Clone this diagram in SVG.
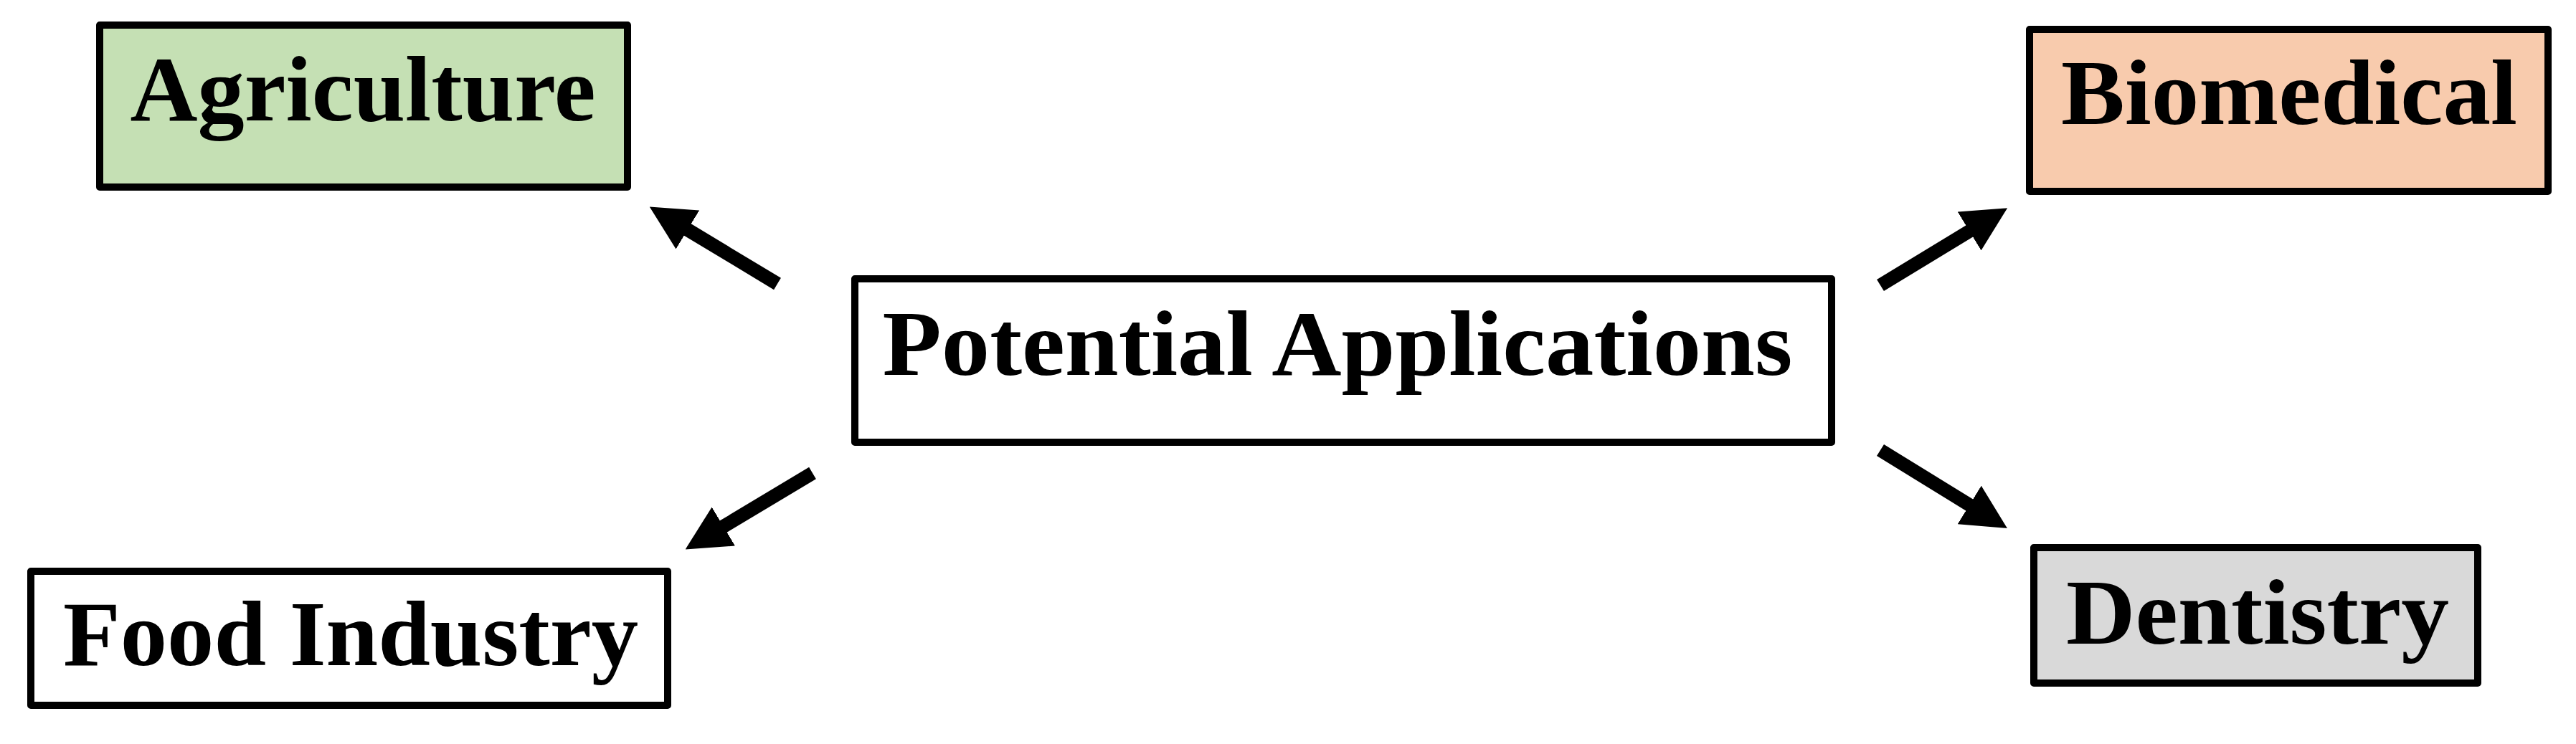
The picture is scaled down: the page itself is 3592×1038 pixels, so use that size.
<svg xmlns="http://www.w3.org/2000/svg" width="3592" height="1038" viewBox="0 0 3592 1038">
<style>
.box{stroke:#000;stroke-width:10;stroke-linejoin:round}
.lbl{font-family:"Liberation Serif","DejaVu Serif",serif;font-weight:bold;font-size:130px;fill:#000;text-anchor:middle}
.conn{stroke:#000;stroke-width:19;fill:none}
</style>
<defs>
<marker id="ah" viewBox="0 0 62 63" refX="1" refY="31.5" markerWidth="62" markerHeight="63" markerUnits="userSpaceOnUse" orient="auto">
<path d="M0,0 L62,31.5 L0,63 Z" fill="#000"/>
</marker>
</defs>
<rect width="3592" height="1038" fill="#fff"/>
<g id="connectors">
<line class="conn" x1="1084" y1="396" x2="958" y2="320" marker-end="url(#ah)"/>
<line class="conn" x1="1133" y1="660" x2="1008" y2="735" marker-end="url(#ah)"/>
<line class="conn" x1="2622" y1="398" x2="2747" y2="322" marker-end="url(#ah)"/>
<line class="conn" x1="2622" y1="628" x2="2747" y2="705" marker-end="url(#ah)"/>
</g>
<g id="agriculture">
<rect class="box" x="139" y="35" width="736" height="226" fill="#C5E0B4"/>
<text class="lbl" x="506" y="168" textLength="649" lengthAdjust="spacingAndGlyphs">Agriculture</text>
</g>
<g id="food-industry">
<rect class="box" x="43" y="797" width="888" height="187" fill="#FFFFFF"/>
<text class="lbl" x="489" y="928" textLength="802" lengthAdjust="spacingAndGlyphs">Food Industry</text>
</g>
<g id="potential-applications">
<rect class="box" x="1192" y="389" width="1362" height="228" fill="#FFFFFF"/>
<text class="lbl" x="1865" y="523" textLength="1269" lengthAdjust="spacingAndGlyphs">Potential Applications</text>
</g>
<g id="biomedical">
<rect class="box" x="2830" y="41" width="723" height="226" fill="#F8CBAD"/>
<text class="lbl" x="3192" y="173" textLength="636" lengthAdjust="spacingAndGlyphs">Biomedical</text>
</g>
<g id="dentistry">
<rect class="box" x="2836" y="764" width="619" height="189" fill="#D9D9D9"/>
<text class="lbl" x="3148" y="898" textLength="534" lengthAdjust="spacingAndGlyphs">Dentistry</text>
</g>
</svg>
